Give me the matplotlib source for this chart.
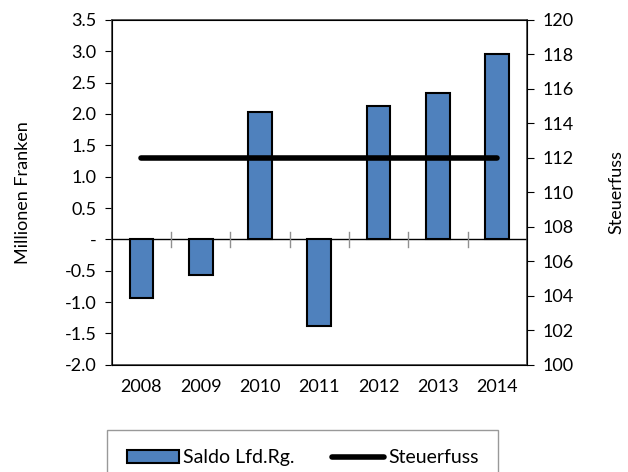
import numpy as np
import matplotlib
matplotlib.use("Agg")
import matplotlib.pyplot as plt

plt.rcParams['font.family'] = ['Lato', 'DejaVu Sans']

years = ['2008', '2009', '2010', '2011', '2012', '2013', '2014']
saldo = [-0.94, -0.57, 2.03, -1.38, 2.12, 2.34, 2.96]
steuerfuss = [112, 112, 112, 112, 112, 112, 112]

left_ticks = [-2.0, -1.5, -1.0, -0.5, 0.0, 0.5, 1.0, 1.5, 2.0, 2.5, 3.0, 3.5]
left_labels = ['-2.0', '-1.5', '-1.0', '-0.5', '-', '0.5', '1.0', '1.5', '2.0', '2.5', '3.0', '3.5']
right_ticks = list(range(100, 121, 2))

fs = 13

fig = plt.figure(figsize=(6.28, 4.72), dpi=100)
ax = fig.add_axes([0.178, 0.227, 0.661, 0.731])
x = np.arange(len(years))

bars = ax.bar(x, saldo, width=0.4, color='#4F81BD', edgecolor='black', linewidth=1.5,
              label='Saldo Lfd.Rg.', zorder=2)
ax.axhline(0, color='black', linewidth=1, zorder=1)
# category separators on the zero line
for b in np.arange(0.5, len(years) - 1, 1):
    ax.plot([b, b], [-0.12, 0.12], color='#909090', linewidth=1, zorder=1)

ax.set_xlim(-0.5, len(years) - 0.5)
ax.set_ylim(-2.0, 3.5)
ax.set_yticks(left_ticks)
ax.set_yticklabels(left_labels)
ax.set_xticks(x)
ax.set_xticklabels(years)
ax.tick_params(axis='x', length=0, pad=10, labelsize=fs)
ax.tick_params(axis='y', direction='out', length=5, labelsize=fs, pad=6)
ax.set_ylabel('Millionen Franken', fontsize=fs, labelpad=24)
for s in ax.spines.values():
    s.set_linewidth(1.2)
    s.set_color('#404040')

ax2 = ax.twinx()
line, = ax2.plot(x, steuerfuss, color='black', linewidth=4, solid_capstyle='round',
                 label='Steuerfuss', zorder=3)
ax2.set_ylim(100, 120)
ax2.set_yticks(right_ticks)
ax2.tick_params(axis='y', direction='out', length=5, labelsize=fs, pad=6)
ax2.set_ylabel('Steuerfuss', fontsize=fs, labelpad=25)

leg = fig.legend([bars, line], ['Saldo Lfd.Rg.', 'Steuerfuss'], loc='upper center',
                 bbox_to_anchor=(0.482, 0.089), ncol=2, fontsize=14, frameon=True,
                 fancybox=False, edgecolor='#808080', handlelength=2.7, handletextpad=0.2,
                 columnspacing=1.9, borderpad=1.0, borderaxespad=0)
leg.get_frame().set_linewidth(1)

fig.savefig('out.png', dpi=100)
